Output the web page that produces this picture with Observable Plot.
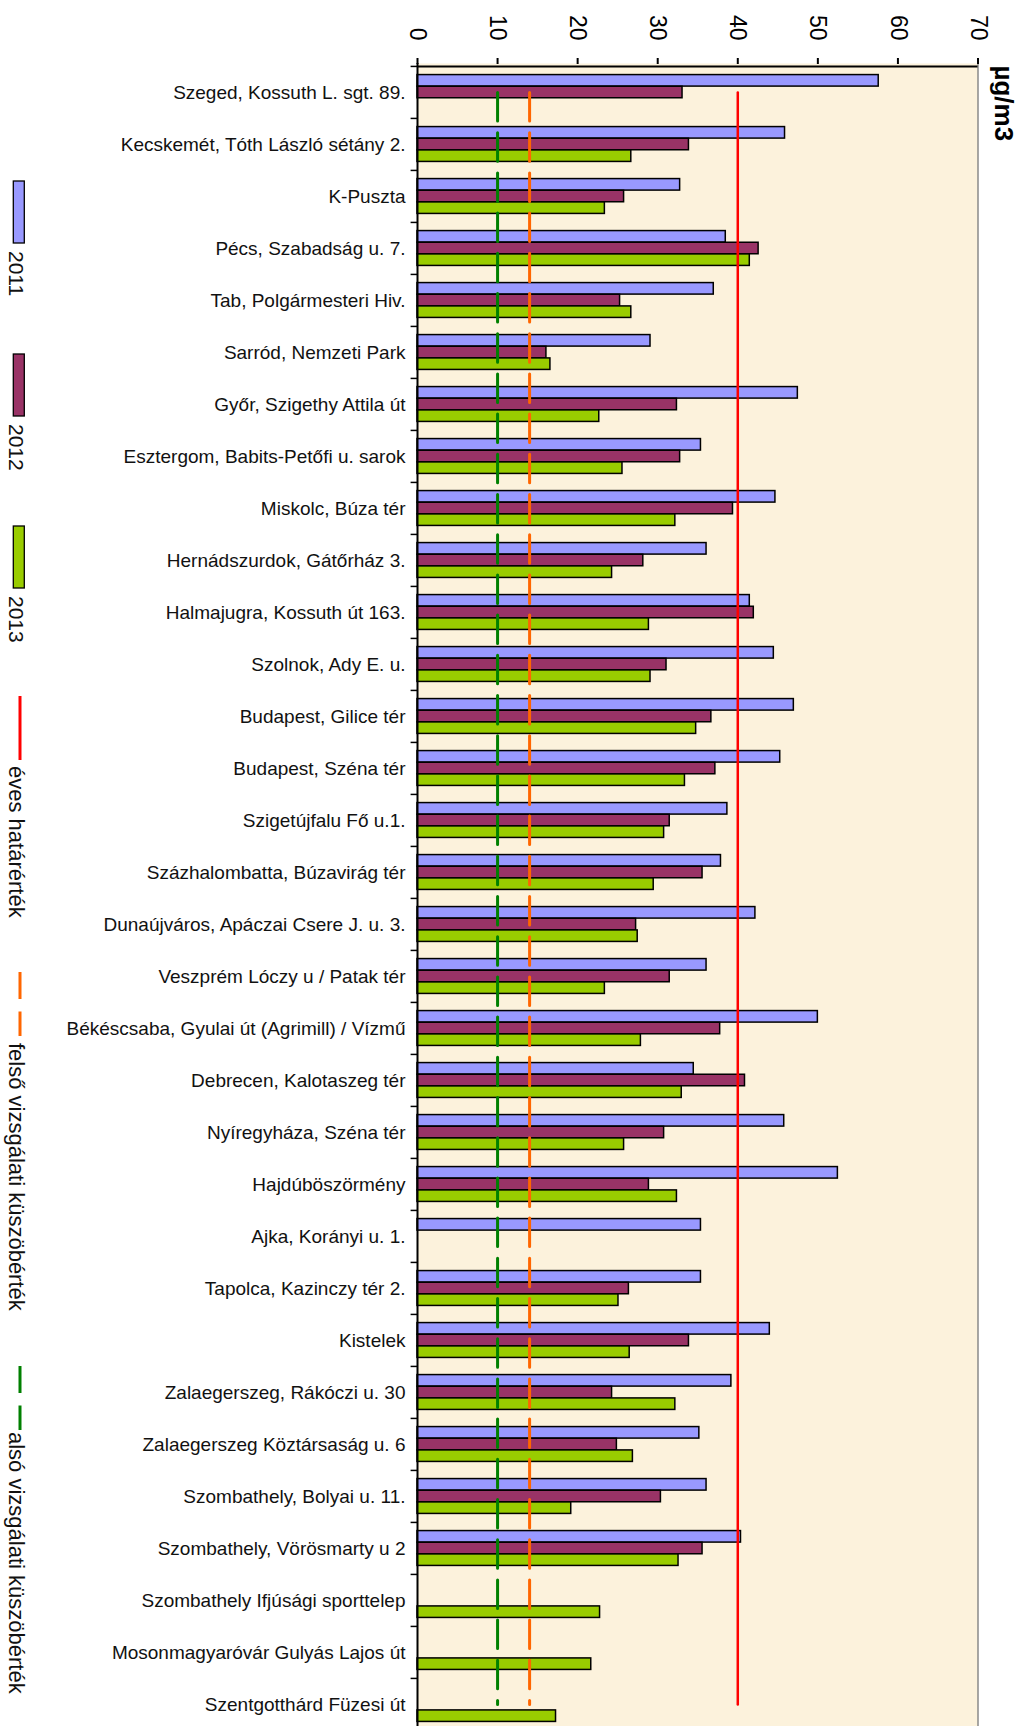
<!DOCTYPE html>
<html><head><meta charset="utf-8">
<script src="https://cdn.jsdelivr.net/npm/d3@7"></script>
<script src="https://cdn.jsdelivr.net/npm/@observablehq/plot@0.6"></script>
<style>
html,body{margin:0;padding:0;background:#fff;overflow:hidden;}
#wrap{position:relative;width:1021px;height:1726px;overflow:hidden;font-family:"Liberation Sans",Arial,sans-serif;}
#chart{position:absolute;left:0;top:0;}
#legend{position:absolute;left:0;top:0;}
</style></head><body>
<div id="wrap"><div id="chart"></div><svg id="legend" width="60" height="1726"></svg></div>
<script>
const stations = [
  "Szeged, Kossuth L. sgt. 89.",
  "Kecskemét, Tóth László sétány 2.",
  "K-Puszta",
  "Pécs, Szabadság u. 7.",
  "Tab, Polgármesteri Hiv.",
  "Sarród, Nemzeti Park",
  "Győr, Szigethy Attila út",
  "Esztergom, Babits-Petőfi u. sarok",
  "Miskolc, Búza tér",
  "Hernádszurdok, Gátőrház 3.",
  "Halmajugra, Kossuth út 163.",
  "Szolnok, Ady E. u.",
  "Budapest, Gilice tér",
  "Budapest, Széna tér",
  "Szigetújfalu Fő u.1.",
  "Százhalombatta, Búzavirág tér",
  "Dunaújváros, Apáczai Csere J. u. 3.",
  "Veszprém Lóczy u / Patak tér",
  "Békéscsaba, Gyulai út (Agrimill) / Vízmű",
  "Debrecen, Kalotaszeg tér",
  "Nyíregyháza, Széna tér",
  "Hajdúböszörmény",
  "Ajka, Korányi u. 1.",
  "Tapolca, Kazinczy tér 2.",
  "Kistelek",
  "Zalaegerszeg, Rákóczi u. 30",
  "Zalaegerszeg Köztársaság u. 6",
  "Szombathely, Bolyai u. 11.",
  "Szombathely, Vörösmarty u 2",
  "Szombathely Ifjúsági sporttelep",
  "Mosonmagyaróvár Gulyás Lajos út",
  "Szentgotthárd Füzesi út"
];
const values2011 = [57.6,45.9,32.8,38.5,37.0,29.1,47.5,35.4,44.7,36.1,41.5,44.5,47.0,45.3,38.7,37.9,42.2,36.1,50.0,34.5,45.8,52.5,35.4,35.4,44.0,39.2,35.2,36.1,40.4,null,null,null];
const values2012 = [33.1,33.9,25.8,42.6,25.3,16.1,32.4,32.8,39.4,28.2,42.0,31.1,36.7,37.2,31.5,35.6,27.3,31.5,37.8,40.9,30.8,28.9,null,26.4,33.9,24.3,24.9,30.4,35.6,null,null,null];
const values2013 = [null,26.7,23.4,41.5,26.7,16.6,22.7,25.6,32.2,24.3,28.9,29.1,34.8,33.4,30.8,29.5,27.5,23.4,27.9,33.0,25.8,32.4,null,25.1,26.5,32.2,26.9,19.2,32.6,22.8,21.7,17.3];
const years = ["2011","2012","2013"];
const yearColors = ["#9999FF","#993366","#99CC00"];
const xTicks = [0,10,20,30,40,50,60,70];
const annualLimit = 40;
const upperThreshold = 14;
const lowerThreshold = 10;
const unitLabel = "µg/m3";
const lineLabels = ["éves határérték","felső vizsgálati küszöbérték","alsó vizsgálati küszöbérték"];
const lineColors = ["#FF0000","#FF6600","#008000"];

const series = [values2011, values2012, values2013].map(vals =>
  stations.map((s, i) => ({station: s, value: vals[i]})).filter(d => d.value != null));

const H = 1732, MT = 63, ML = 417, MR = 43.5;
const bw = (H - MT) / stations.length;
const barH = 11.67;
const gTop = (bw - 3 * barH) / 2;
const dash = "28.5,11.7";
const font = '"Liberation Sans", Arial, sans-serif';

const chart = Plot.plot({
  width: 1021, height: H,
  marginTop: MT, marginLeft: ML, marginRight: MR, marginBottom: 0,
  style: {fontFamily: font, color: "black", background: "transparent", overflow: "visible"},
  x: {domain: [0, 70], axis: null},
  y: {domain: stations, padding: 0, axis: null},
  marks: [
    Plot.frame({fill: "#FCF2DC", stroke: null}),
    ...series.map((rows, k) => Plot.barX(rows, {
      y: "station", x: "value", fill: yearColors[k], stroke: "black", strokeWidth: 1.5,
      insetTop: gTop + k * barH, insetBottom: bw - gTop - (k + 1) * barH
    })),
    Plot.ruleX([0], {stroke: "black", strokeWidth: 2}),
    Plot.ruleX([70], {stroke: "#8a8a8a", strokeWidth: 1.5}),
    Plot.ruleY([stations[0]], {y: d => d, x1: () => 0, x2: () => 70, dy: -bw / 2, stroke: "black", strokeWidth: 2}),
    Plot.axisX({anchor: "top", ticks: xTicks, tickSize: 6, tickFormat: () => "", strokeWidth: 2, label: null}),
    Plot.text(xTicks, {x: d => d, frameAnchor: "top", dy: -23, rotate: 90, textAnchor: "end", lineAnchor: "middle", fontSize: 23, fill: "black"}),
    Plot.axisY({anchor: "left", tickSize: 0, tickPadding: 12, fontSize: 19, label: null, fill: "#111"}),
    Plot.ruleY(stations, {y: d => d, x1: () => -0.8, x2: () => 0, dy: -bw / 2, stroke: "black", strokeWidth: 1.5}),
    Plot.line(stations, {x: () => lowerThreshold, y: d => d, stroke: lineColors[2], strokeWidth: 3, strokeDasharray: dash}),
    Plot.line(stations, {x: () => upperThreshold, y: d => d, stroke: lineColors[1], strokeWidth: 3, strokeDasharray: dash}),
    Plot.line(stations, {x: () => annualLimit, y: d => d, stroke: lineColors[0], strokeWidth: 2.5}),
    Plot.text([unitLabel], {frameAnchor: "top-right", dx: 25, dy: 2, rotate: 90, textAnchor: "start", lineAnchor: "middle", fontSize: 26, fontWeight: "bold", fill: "black"})
  ]
});
document.getElementById("chart").appendChild(chart);

// legend (rotated, left side)
const lg = d3.select("#legend").style("font-family", font);
const swatchTops = [181, 354, 526];
years.forEach((yr, k) => {
  lg.append("rect").attr("x", 13.3).attr("y", swatchTops[k]).attr("width", 11).attr("height", 62)
    .attr("fill", yearColors[k]).attr("stroke", "black").attr("stroke-width", 1.3);
  lg.append("text").attr("transform", `translate(16.5,${swatchTops[k] + 70}) rotate(90)`)
    .attr("dy", "0.35em").attr("font-size", 21).attr("fill", "#111").text(yr);
});
const lineTops = [696, 972, 1366];
const textTops = [766, 1043, 1432];
lineLabels.forEach((lab, k) => {
  lg.append("line").attr("x1", 20).attr("x2", 20).attr("y1", lineTops[k]).attr("y2", lineTops[k] + 64)
    .attr("stroke", lineColors[k]).attr("stroke-width", 3)
    .attr("stroke-dasharray", k === 0 ? null : "27,12.5");
  lg.append("text").attr("transform", `translate(16.5,${textTops[k]}) rotate(90)`)
    .attr("dy", "0.35em").attr("font-size", 22).attr("fill", "#111").text(lab);
});
</script>
</body></html>
